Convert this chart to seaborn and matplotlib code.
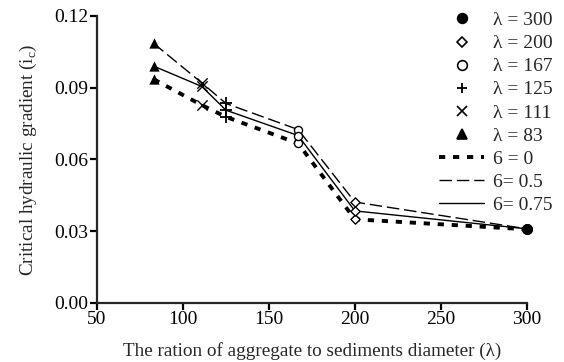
import matplotlib
matplotlib.use("Agg")
import matplotlib.pyplot as plt
import seaborn as sns
import pandas as pd
from matplotlib.lines import Line2D

# aggregate to sediment diameter ratio
lam = [83, 111, 125, 167, 200, 300]
# critical hydraulic gradient for each sigma
ic_s0 = [0.0935, 0.0827, 0.0778, 0.0667, 0.0350, 0.0308]
ic_s05 = [0.1085, 0.0920, 0.0834, 0.0725, 0.0422, 0.0310]
ic_s075 = [0.0990, 0.0905, 0.0806, 0.0700, 0.0385, 0.0310]
sigma_labels = ["6 = 0", "6= 0.5", "6= 0.75"]
lam_labels = ["\u03bb = 300", "\u03bb = 200", "\u03bb = 167", "\u03bb = 125", "\u03bb = 111", "\u03bb = 83"]

sns.set_style("ticks")
plt.rcParams["font.family"] = ["Liberation Serif", "DejaVu Serif"]
plt.rcParams["mathtext.fontset"] = "custom"
plt.rcParams["mathtext.rm"] = "Liberation Serif"

df = pd.DataFrame({
    "lam": lam * 3,
    "ic": ic_s0 + ic_s05 + ic_s075,
    "sigma": [s for s in sigma_labels for _ in lam],
})

fig = plt.figure(figsize=(5.64, 3.62), dpi=100)
ax = fig.add_axes([0.172, 0.163, 0.762, 0.793])

line_styles = {
    "6 = 0": dict(ls=(0, (1.6, 2.0)), lw=2.8),
    "6= 0.5": dict(ls=(0, (9, 3.5)), lw=1.0),
    "6= 0.75": dict(ls="-", lw=1.0),
}
for s in sigma_labels:
    sub = df[df["sigma"] == s]
    sns.lineplot(data=sub, x="lam", y="ic", color="black", ax=ax,
                 linestyle=line_styles[s]["ls"], linewidth=line_styles[s]["lw"],
                 clip_on=False)

# marker per lambda
marker_styles = {
    300: dict(marker="o", fc="black", size=60, lw=0),
    200: dict(marker="D", fc="white", size=22, lw=1.0),
    167: dict(marker="o", fc="white", size=34, lw=1.0),
    125: dict(marker="+", fc="black", size=80, lw=1.3),
    111: dict(marker="x", fc="black", size=55, lw=1.0),
    83: dict(marker="^", fc="black", size=55, lw=0),
}
for l in lam:
    sub = df[df["lam"] == l]
    m = marker_styles[l]
    sns.scatterplot(data=sub, x="lam", y="ic", marker=m["marker"], s=m["size"],
                    color=m["fc"], edgecolor="black", linewidth=m["lw"], ax=ax,
                    zorder=5, clip_on=False)

ax.set_xlim(50, 300)
ax.set_ylim(0, 0.12)
ax.set_xticks([50, 100, 150, 200, 250, 300])
ax.set_yticks([0.0, 0.03, 0.06, 0.09, 0.12])
ax.set_yticklabels(["0.00", "0.03", "0.06", "0.09", "0.12"])
sns.despine(ax=ax)
for sp in ["left", "bottom"]:
    ax.spines[sp].set_linewidth(1.6)
ax.tick_params(direction="out", length=5, width=1.6, labelsize=14, pad=1, colors="black")
ax.set_xlabel("The ration of aggregate to sediments diameter (\u03bb)", fontsize=13.8, labelpad=10)
ax.set_ylabel("Critical hydraulic gradient (i$_\\mathregular{c}$)", fontsize=13.8, labelpad=11)

handles = []
for l in [300, 200, 167, 125, 111, 83]:
    m = marker_styles[l]
    handles.append(Line2D([], [], ls="none", marker=m["marker"],
                          markerfacecolor=m["fc"], markeredgecolor="black",
                          markeredgewidth=max(m["lw"], 1.2),
                          markersize=7 if m["marker"] != "D" else 5))
for s in sigma_labels:
    handles.append(Line2D([], [], color="black", linestyle=line_styles[s]["ls"],
                          linewidth=line_styles[s]["lw"]))
fig.legend(handles, lam_labels + sigma_labels, loc="upper right",
           bbox_to_anchor=(1.0, 1.0), frameon=False, fontsize=14,
           handlelength=2.3, handletextpad=0.45, labelspacing=0.28,
           borderaxespad=0.2)

fig.savefig("out.png", dpi=100)
